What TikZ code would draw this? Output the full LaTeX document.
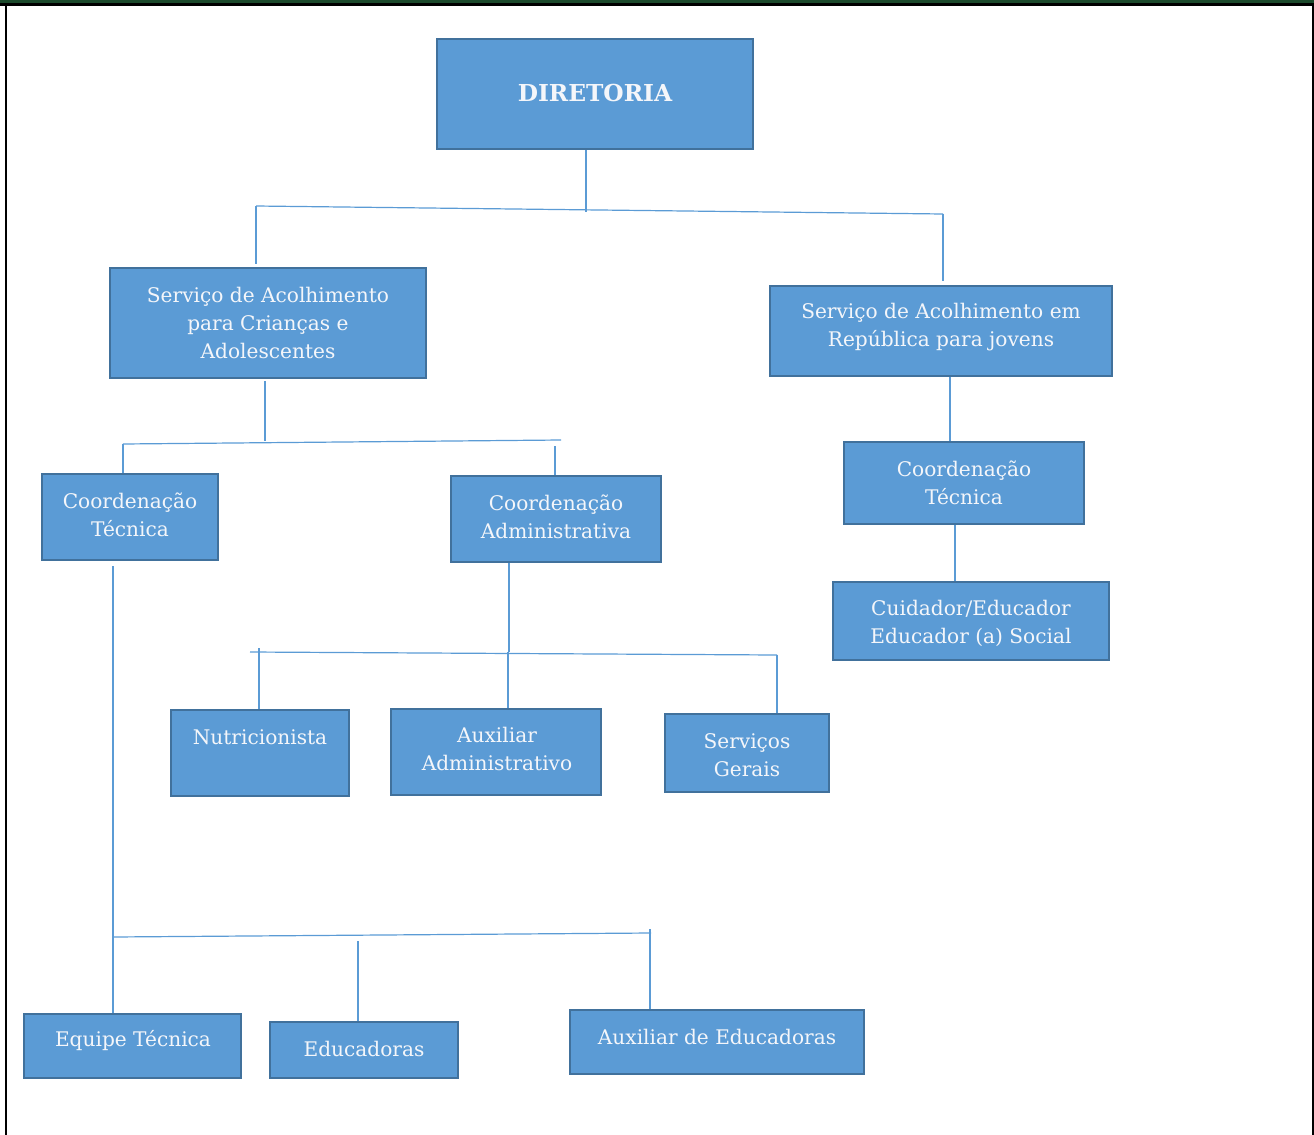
\documentclass[tikz,border=0pt]{standalone}
\usepackage{fontspec}
\setmainfont{DejaVu Serif}
\definecolor{boxfill}{HTML}{5B9BD5}
\definecolor{boxline}{HTML}{41719C}
\definecolor{connc}{HTML}{5B9BD5}
\definecolor{band}{HTML}{1C4A2C}
\definecolor{txt}{HTML}{F4F6FA}
\tikzset{
  orgbox/.style={draw=boxline, fill=boxfill, line width=1.6pt, inner sep=0pt},
  lbl/.style={text=txt, font=\fontsize{15.1}{21}\selectfont, align=center, inner sep=0pt},
  conn/.style={draw=connc, line width=0.9pt}
}
\newcommand\obox[5]{\node[orgbox, minimum width={(#4-#2)*0.75pt}, minimum height={(#5-#3)*0.75pt}] (#1) at ({(#2+#4)/2},{(#3+#5)/2}) {};}
\begin{document}
\begin{tikzpicture}[x=0.75pt,y=-0.75pt]
\useasboundingbox (0,0) rectangle (1314,1135);
% frame
\fill[band] (0,0) rectangle (1314,3.3);
\fill[black] (0,3.3) rectangle (1314,6);
\fill[black] (5,3.3) rectangle (7,1135);
\fill[black] (1311.5,3.3) rectangle (1314,1135);
% boxes
\obox{dir}{437}{39}{753}{149}
\obox{sac}{110}{268}{426}{378}
\obox{srj}{770}{286}{1112}{376}
\obox{cta}{42}{474}{218}{560}
\obox{cad}{451}{476}{661}{562}
\obox{ctb}{844}{442}{1084}{524}
\obox{cui}{833}{582}{1109}{660}
\obox{nut}{171}{710}{349}{796}
\obox{aux}{391}{709}{601}{795}
\obox{sge}{665}{714}{829}{792}
\obox{eqt}{24}{1014}{241}{1078}
\obox{edu}{270}{1022}{458}{1078}
\obox{axe}{570}{1010}{864}{1074}
% labels
\node[lbl, font=\fontsize{17.5}{21}\selectfont\bfseries] (tdir) at (595,93) {DIRETORIA};
\node[lbl] (tsac) at (268,323) {Serviço de Acolhimento\\para Crianças e\\Adolescentes};
\node[lbl] (tsrj) at (941,327) {Serviço de Acolhimento em\\República para jovens};
\node[lbl] (tcta) at (130,515) {Coordenação\\Técnica};
\node[lbl] (tcad) at (556,517) {Coordenação\\Administrativa};
\node[lbl] (tctb) at (964,483) {Coordenação\\Técnica};
\node[lbl] (tcui) at (971,623) {Cuidador/Educador\\Educador (a) Social};
\node[lbl] (tnut) at (260,737) {Nutricionista};
\node[lbl] (taux) at (497,749) {Auxiliar\\Administrativo};
\node[lbl] (tsge) at (747,755) {Serviços\\Gerais};
\node[lbl] (teqt) at (133,1041) {Equipe Técnica};
\node[lbl] (tedu) at (364,1049) {Educadoras};
\node[lbl] (taxe) at (717,1037) {Auxiliar de Educadoras};
% connectors level 1
\coordinate (h1a) at (256,206);
\coordinate (h1b) at (943,214);
\coordinate (h1m) at (586,212);
\draw[conn] (dir.south -| h1m) -- (h1m);
\draw[conn] (h1a) -- (h1b);
\draw[conn] (h1a) -- ([yshift=2.2pt]sac.north -| h1a);
\draw[conn] (h1b) -- ([yshift=3pt]srj.north -| h1b);
% left service
\coordinate (h2a) at (123,444);
\coordinate (h2b) at (561,440);
\coordinate (h2m) at (265,441);
\coordinate (h2c) at (555,446);
\draw[conn] ([yshift=-1.5pt]sac.south -| h2m) -- (h2m);
\draw[conn] (h2a) -- (h2b);
\draw[conn] (h2a) -- (cta.north -| h2a);
\draw[conn] (h2c) -- (cad.north -| h2c);
% right service
\coordinate (r1) at (950,410);
\coordinate (r2) at (955,550);
\draw[conn] (srj.south -| r1) -- (ctb.north -| r1);
\draw[conn] (ctb.south -| r2) -- (cui.north -| r2);
% administrative
\coordinate (j3) at (509,652);
\coordinate (h3a) at (250,652);
\coordinate (h3b) at (777,655);
\coordinate (h3n) at (259,648);
\coordinate (h3x) at (508,652);
\draw[conn] (cad.south -| j3) -- (j3);
\draw[conn] (h3a) -- (h3b);
\draw[conn] (h3n) -- (nut.north -| h3n);
\draw[conn] (h3x) -- (aux.north -| h3x);
\draw[conn] (h3b) -- (sge.north -| h3b);
% technical
\coordinate (v4) at (113,566);
\coordinate (h4a) at (113,937);
\coordinate (h4b) at (651,933);
\coordinate (h4e) at (358,941);
\coordinate (h4x) at (650,929);
\draw[conn] (v4) -- (eqt.north -| v4);
\draw[conn] (h4a) -- (h4b);
\draw[conn] (h4e) -- (edu.north -| h4e);
\draw[conn] (h4x) -- (axe.north -| h4x);
\end{tikzpicture}
\end{document}
